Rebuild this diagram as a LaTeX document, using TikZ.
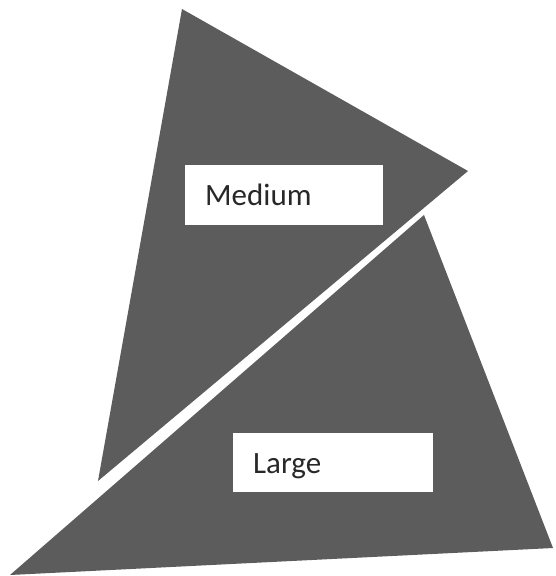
\documentclass[tikz,border=0pt]{standalone}
\usepackage{fontspec}
\setmainfont{Carlito}
\definecolor{tri}{RGB}{92,92,92}
\definecolor{txt}{RGB}{40,40,40}
\begin{document}
\begin{tikzpicture}[x=1pt,y=-1pt,
  tri/.style={fill=tri,draw=none},
  labelbox/.style={fill=white,draw=none,inner sep=0pt,anchor=north west},
  labeltext/.style={anchor=base west,inner sep=0pt,text=txt,font=\fontsize{31}{36}\selectfont}]
\useasboundingbox[fill=white] (0,0) rectangle (555,576);
% Medium triangle
\fill[tri] (182,9) -- (468,171) -- (98,481) -- cycle;
% Large triangle
\fill[tri] (424,215) -- (553,548) -- (10,575) -- cycle;
% label boxes
\node[labelbox,minimum width=198pt,minimum height=60pt] (mbox) at (185,165) {};
\node[labeltext] (mtext) at (205,205) {Medium};
\node[labelbox,minimum width=200pt,minimum height=59pt] (lbox) at (233,433) {};
\node[labeltext] (ltext) at (253,473) {Large};
\end{tikzpicture}
\end{document}
